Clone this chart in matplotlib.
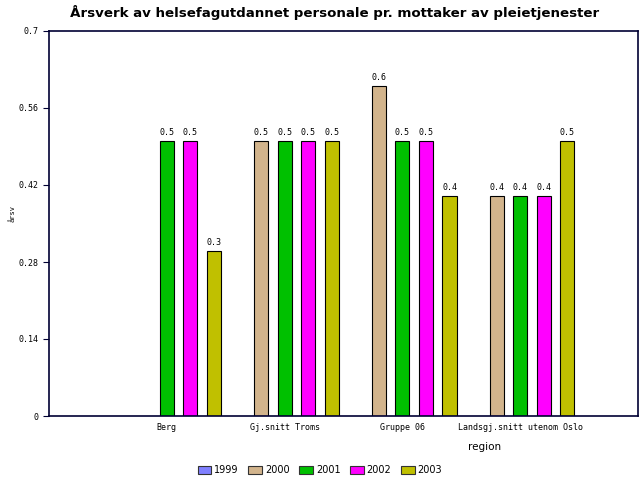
import numpy as np
import matplotlib
matplotlib.use("Agg")
import matplotlib.pyplot as plt
from matplotlib.patches import Patch

# data
regions = ["Berg", "Gj.snitt Troms", "Gruppe 06", "Landsgj.snitt utenom Oslo"]
years = ["1999", "2000", "2001", "2002", "2003"]
v1999 = [np.nan, np.nan, np.nan, np.nan]
v2000 = [np.nan, 0.5, 0.6, 0.4]
v2001 = [0.5, 0.5, 0.5, 0.4]
v2002 = [0.5, 0.5, 0.5, 0.4]
v2003 = [0.3, 0.5, 0.4, 0.5]
series = [v1999, v2000, v2001, v2002, v2003]
colors = ["#8080ff", "#d2b48c", "#00c000", "#ff00ff", "#c0c000"]
yticks = [0, 0.14, 0.28, 0.42, 0.56, 0.7]

mono = "DejaVu Sans Mono"

fig = plt.figure(figsize=(6.4, 4.8), dpi=100)
ax = fig.add_axes([49 / 640, 64 / 480, 589 / 640, 385 / 480])

x = np.arange(len(regions))
step = 0.2
width = 0.12
for i, vals in enumerate(series):
    xs = x + (i - 2) * step
    ax.bar(xs, vals, width, color=colors[i], edgecolor="black", linewidth=0.8)
    for xi, v in zip(xs, vals):
        if not np.isnan(v):
            ax.text(xi, v + 0.008, "%.1f" % v, ha="center", va="bottom",
                    fontsize=6, family=mono)

ax.set_xlim(-1, 4)
ax.set_ylim(0, 0.7)
ax.set_xticks(x)
ax.set_xticklabels(regions, fontsize=6, family=mono)
ax.tick_params(axis="x", length=0, pad=5)
ax.set_yticks(yticks)
ax.set_yticklabels(["0", "0.14", "0.28", "0.42", "0.56", "0.7"],
                   fontsize=6, family=mono)
ax.tick_params(axis="y", length=4, color="#000033")
for s in ax.spines.values():
    s.set_color("#000033")
    s.set_linewidth(1.2)

fig.text(0.523, 1 - 12 / 480, "Årsverk av helsefagutdannet personale pr. mottaker av pleietjenester",
         ha="center", va="center", fontsize=9.6, fontweight="bold")
fig.text(485 / 640, 1 - 447 / 480, "region", ha="center", va="center", fontsize=7.5)
fig.text(12 / 640, 1 - 213 / 480, "årsv", ha="center", va="center",
         fontsize=5, rotation=90, family=mono)

handles = [Patch(facecolor=c, edgecolor="#333333", linewidth=0.8) for c in colors]
fig.legend(handles, years, loc="center", bbox_to_anchor=(0.5, 1 - 470 / 480),
           ncol=5, frameon=False, fontsize=7, handlelength=1.4, handleheight=0.9,
           handletextpad=0.3, columnspacing=1.0)

plt.savefig("out.png", dpi=100)
